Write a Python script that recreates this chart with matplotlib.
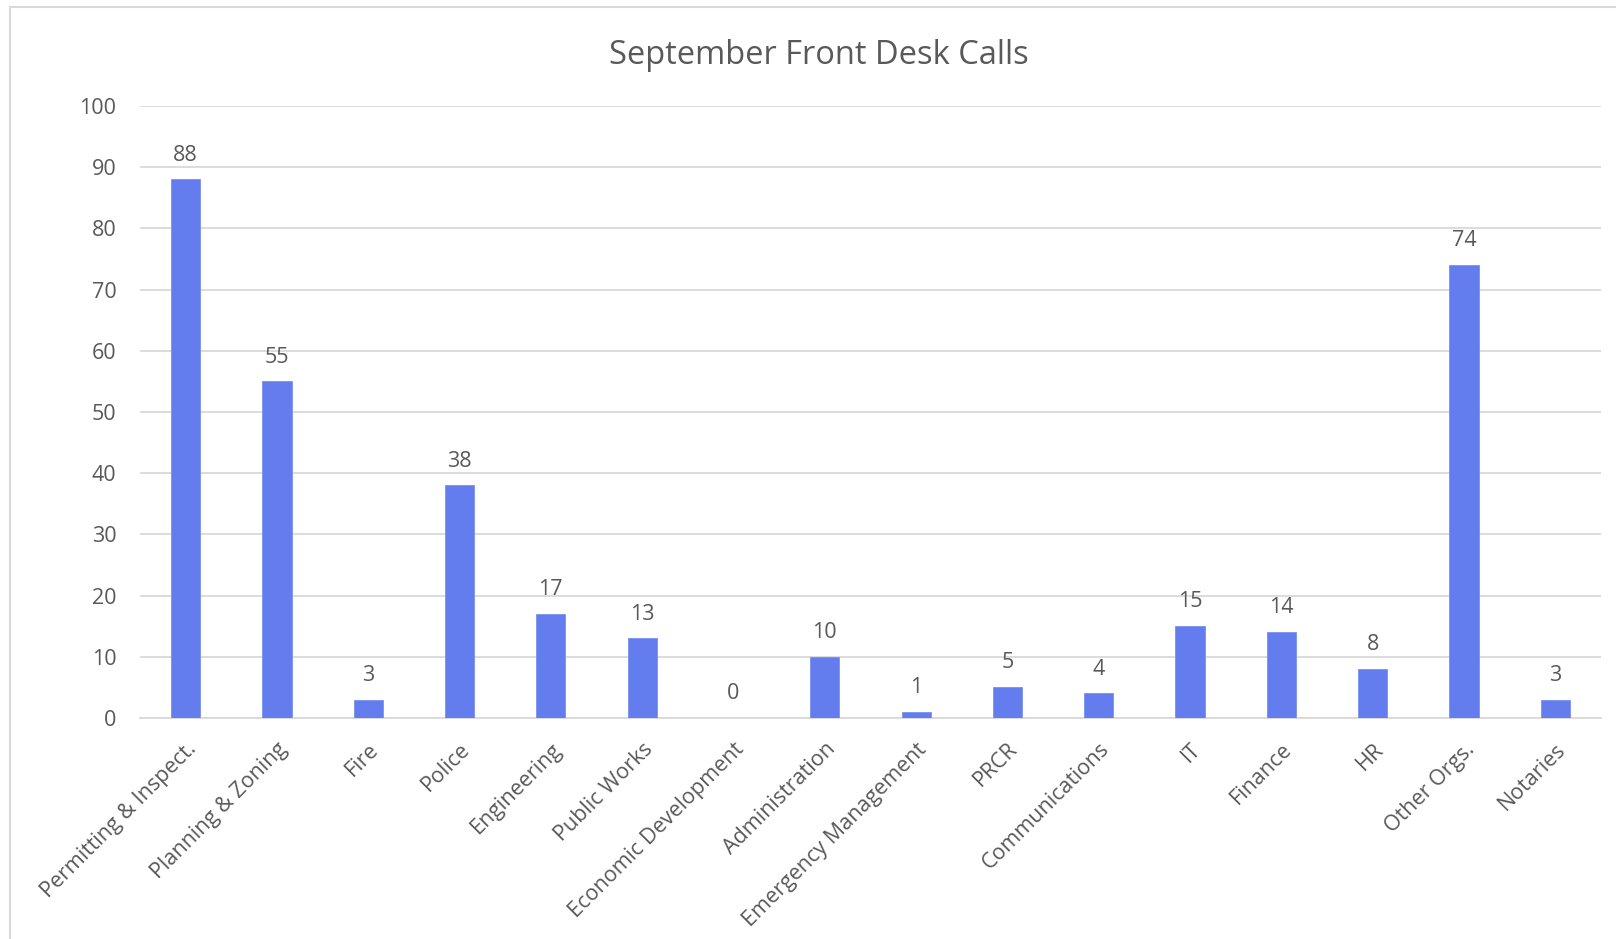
import matplotlib.pyplot as plt
from matplotlib.lines import Line2D
import numpy as np

# September front desk call counts, per department
categories = ["Permitting & Inspect.", "Planning & Zoning", "Fire", "Police",
              "Engineering", "Public Works", "Economic Development",
              "Administration", "Emergency Management", "PRCR",
              "Communications", "IT", "Finance", "HR", "Other Orgs.", "Notaries"]
calls = [88, 55, 3, 38, 17, 13, 0, 10, 1, 5, 4, 15, 14, 8, 74, 3]
y_ticks = [0, 10, 20, 30, 40, 50, 60, 70, 80, 90, 100]

plt.rcParams['font.family'] = ['Open Sans', 'DejaVu Sans']
text_col = '#595959'
grid_col = '#D9D9D9'

fig = plt.figure(figsize=(16.16, 9.39), dpi=100)
ax = fig.add_axes([0.0866, 0.2354, 0.9041, 0.6517])

x = np.arange(len(categories))
bars = ax.bar(x, calls, width=0.32, color='#637DEE', edgecolor='#7A90F0',
              linewidth=0.6, zorder=3)

ax.set_ylim(0, 100)
ax.set_xlim(-0.5, len(categories) - 0.5)
ax.set_yticks(y_ticks)
ax.yaxis.grid(True, color=grid_col, linewidth=1.3, zorder=0)
for s in ['top', 'right', 'left']:
    ax.spines[s].set_visible(False)
ax.spines['bottom'].set_color(grid_col)
ax.spines['bottom'].set_linewidth(1.3)
ax.tick_params(axis='both', length=0, labelsize=15.5, labelcolor=text_col)
ax.tick_params(axis='y', pad=17)
ax.tick_params(axis='x', pad=15)

ax.set_xticks(x)
ax.set_xticklabels(categories, rotation=45, ha='right', rotation_mode='anchor')

# value labels above each bar
for xi, v in zip(x, calls):
    ax.annotate(str(v), (xi, v), xytext=(0, 10), textcoords='offset points',
                ha='center', va='bottom', fontsize=15.5, color=text_col)

fig.text(0.507, 0.941, 'September Front Desk Calls', ha='center', va='center',
         fontsize=23.5, color=text_col)

# outer chart frame (left and top edges visible)
fig.add_artist(Line2D([0.0059, 0.0059], [0, 0.9925], color=grid_col, lw=1.5,
                      transform=fig.transFigure))
fig.add_artist(Line2D([0.0059, 1], [0.9925, 0.9925], color=grid_col, lw=1.5,
                      transform=fig.transFigure))

fig.savefig('out.png', dpi=100, facecolor='white')
